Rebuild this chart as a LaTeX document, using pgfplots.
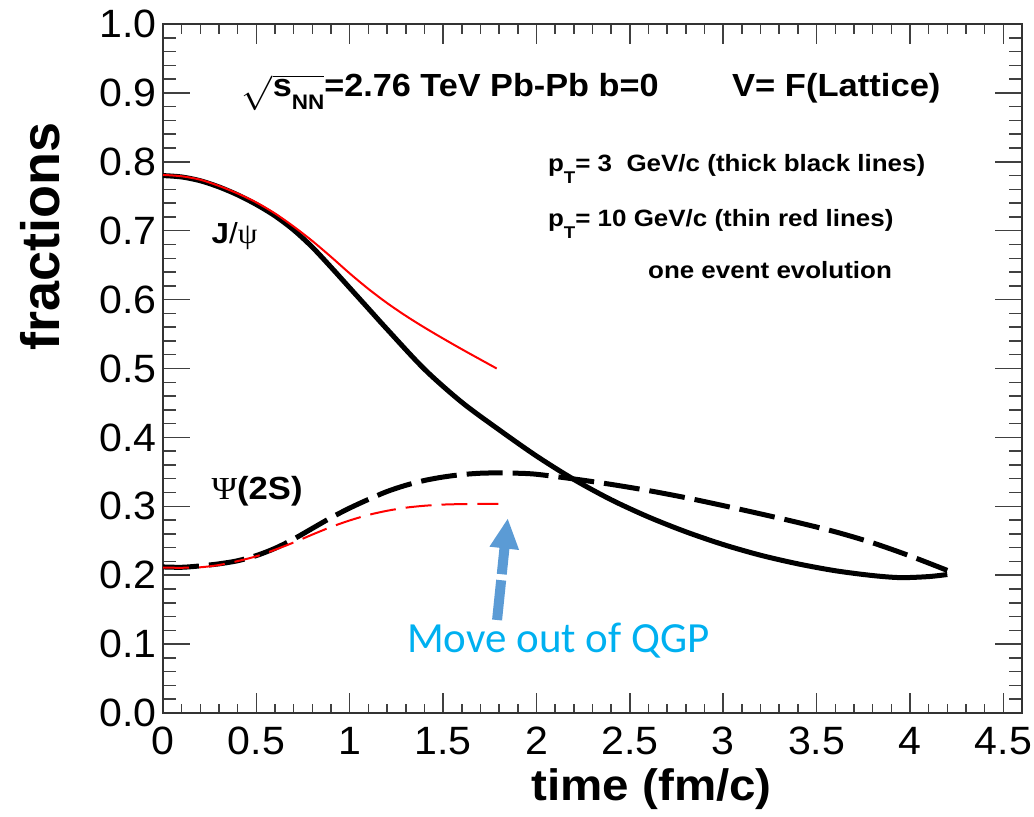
\documentclass[border=0pt]{standalone}
\usepackage{fontspec}
\setmainfont{Liberation Sans}
\newfontfamily\calfont{Carlito}
\newfontfamily\serfont{Liberation Serif}
\usepackage{pgfplots}
\pgfplotsset{compat=1.18}
\definecolor{qgpblue}{RGB}{0,176,240}
\definecolor{arrowblue}{RGB}{91,155,213}
\begin{document}
\begin{tikzpicture}[txt/.style={inner sep=0pt, outer sep=0pt}]
\begin{axis}[
  at={(0,0)}, anchor=south west, scale only axis,
  width=429.5pt, height=344.5pt,
  xmin=0, xmax=4.6, ymin=0, ymax=1,
  clip=false,
  xtick={0,0.5,1,1.5,2,2.5,3,3.5,4,4.5},
  ytick={0,0.1,0.2,0.3,0.4,0.5,0.6,0.7,0.8,0.9,1.0},
  minor x tick num=4, minor y tick num=4,
  tick align=inside,
  axis line style={line width=0.9pt, black!80},
  tick style={line width=0.75pt, black!75},
  major tick length=13.5pt, minor tick length=6.5pt,
  every major x tick/.append style={/pgfplots/major tick length=10pt},
  every minor x tick/.append style={/pgfplots/minor tick length=4.75pt},
  /pgf/number format/assume math mode=true,
  tick label style={font=\fontsize{19.75}{22}\selectfont},
  yticklabel style={/pgf/number format/fixed, /pgf/number format/fixed zerofill, /pgf/number format/precision=1, inner sep=0pt, anchor=east, xshift=-3pt, xscale=1.04},
  xticklabel style={inner sep=0pt, anchor=north, yshift=-7pt, xscale=1.04},
]
% J/psi, pT = 3 GeV/c (thick black)
\addplot[black, line width=2.5pt, smooth] coordinates {
 (0,0.780) (0.1,0.778) (0.2,0.7725) (0.3,0.7635) (0.4,0.752) (0.5,0.738) (0.6,0.7215)
 (0.7,0.701) (0.8,0.676) (0.9,0.647) (1.0,0.617) (1.1,0.587) (1.2,0.557) (1.4,0.499)
 (1.6,0.451) (1.8,0.411) (2.0,0.373) (2.2,0.339) (2.4,0.3095) (2.6,0.2845) (2.8,0.263)
 (3.0,0.2445) (3.2,0.229) (3.4,0.2165) (3.6,0.2065) (3.8,0.1995) (3.95,0.1965) (4.1,0.198) (4.2,0.201)};
% J/psi, pT = 10 GeV/c (thin red)
\addplot[red, line width=1pt, smooth] coordinates {
 (0,0.781) (0.1,0.779) (0.2,0.774) (0.3,0.765) (0.4,0.754) (0.5,0.741) (0.6,0.725)
 (0.7,0.706) (0.8,0.685) (0.9,0.662) (1.0,0.638) (1.1,0.6155) (1.2,0.595) (1.3,0.5765)
 (1.4,0.5595) (1.5,0.5435) (1.6,0.528) (1.7,0.513) (1.787,0.500)};
% psi(2S), pT = 3 GeV/c
\addplot[black, line width=2.5pt, smooth, dash pattern=on 18pt off 5pt] coordinates {
 (0,0.212) (0.1,0.2115) (0.2,0.2135) (0.3,0.2165) (0.4,0.221) (0.5,0.2285) (0.6,0.239)
 (0.7,0.2525) (0.8,0.268) (0.9,0.2835) (1.0,0.2975) (1.1,0.310) (1.2,0.3215) (1.3,0.3305)
 (1.4,0.3375) (1.5,0.3425) (1.6,0.346) (1.7,0.348) (1.8,0.3485) (1.9,0.348) (2.0,0.3465)
 (2.2,0.3397) (2.4,0.3318) (2.6,0.3228) (2.8,0.3125) (3.0,0.301) (3.2,0.289) (3.4,0.2765)
 (3.6,0.263) (3.8,0.247) (4.0,0.228) (4.2,0.207)};
% psi(2S), pT = 10 GeV/c
\addplot[red, line width=1pt, smooth, dash pattern=on 13pt off 5pt] coordinates {
 (0,0.211) (0.1,0.2108) (0.2,0.2115) (0.3,0.2148) (0.4,0.2205) (0.5,0.2275) (0.6,0.237)
 (0.7,0.2475) (0.8,0.259) (0.9,0.270) (1.0,0.2795) (1.1,0.2875) (1.2,0.2935) (1.3,0.298)
 (1.4,0.3008) (1.5,0.3025) (1.6,0.3032) (1.7,0.3034) (1.796,0.3034)};

% texts
\node[txt, anchor=base west, xscale=1.07, font=\fontsize{16}{19}\selectfont\bfseries] at (axis cs:0.423,0.8945)
  {$\sqrt{\mbox{\bfseries s\raisebox{-6.5pt}{\fontsize{10.5}{12}\selectfont NN}}}$=2.76 TeV Pb-Pb b=0};
\node[txt, anchor=base west, xscale=1.08, font=\fontsize{16}{19}\selectfont\bfseries] at (axis cs:3.048,0.8945) {V= F(Lattice)};
\node[txt, anchor=base west, xscale=1.1, font=\fontsize{11.8}{14}\selectfont\bfseries] at (axis cs:2.062,0.7856)
  {p\raisebox{-6pt}{\fontsize{8.5}{10}\selectfont T}= 3~~GeV/c (thick black lines)};
\node[txt, anchor=base west, xscale=1.1, font=\fontsize{11.8}{14}\selectfont\bfseries] at (axis cs:2.062,0.7054)
  {p\raisebox{-6pt}{\fontsize{8.5}{10}\selectfont T}= 10 GeV/c (thin red lines)};
\node[txt, anchor=base west, xscale=1.1, font=\fontsize{11.8}{14}\selectfont\bfseries] at (axis cs:2.598,0.6313)
  {one event evolution};
\node[txt, anchor=base west, xscale=1.08, font=\fontsize{14.5}{17}\selectfont] at (axis cs:0.261,0.682)
  {\textbf{J}/{\serfont ψ}};
\node[txt, anchor=base west, xscale=1.08, font=\fontsize{16}{19}\selectfont] at (axis cs:0.261,0.3106)
  {{\serfont Ψ}\textbf{(2S)}};
\node[txt, anchor=base, xscale=1.08, font=\fontsize{22}{26}\selectfont\bfseries] at (axis cs:2.617,-0.1277) {time (fm/c)};
\node[txt, anchor=base, rotate=90, font=\fontsize{27}{32}\selectfont\bfseries] at (axis cs:-0.5517,0.6916) {fractions};

% annotation arrow
\draw[arrowblue, line width=5pt, dash pattern=on 20pt off 3pt] (axis cs:1.789,0.135) -- (axis cs:1.829,0.2405);
\fill[arrowblue] (axis cs:1.748,0.2414) -- (axis cs:1.846,0.2816) -- (axis cs:1.907,0.2366) -- cycle;
\node[txt, anchor=base west, text=qgpblue, font=\calfont\fontsize{21.5}{25}\selectfont] at (axis cs:1.307,0.0871) {Move out of QGP};
\end{axis}
\pgfresetboundingbox
\path[use as bounding box] (-81.5pt,-51.5pt) rectangle (435.5pt,356.5pt);
\end{tikzpicture}
\end{document}
